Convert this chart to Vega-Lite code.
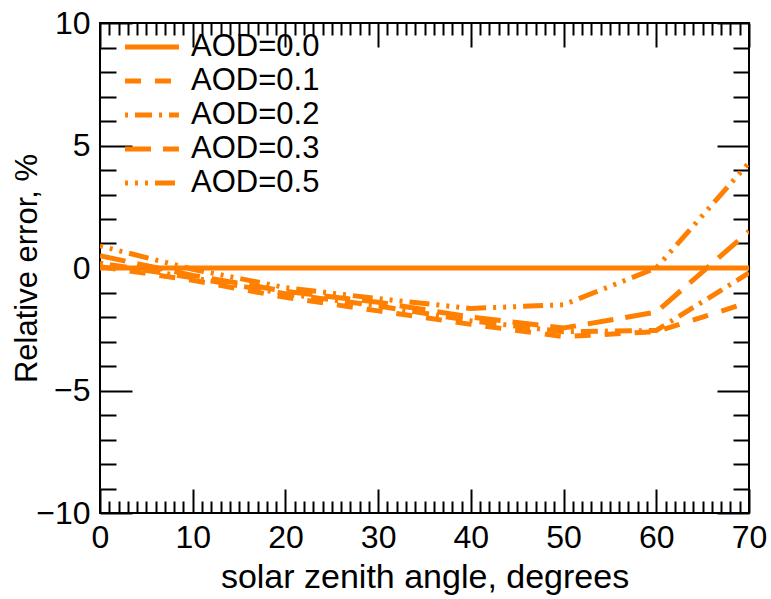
{
  "$schema": "https://vega.github.io/schema/vega-lite/v6.json",
  "autosize": "none",
  "padding": {"left": 100, "top": 23, "right": 22, "bottom": 86},
  "width": 649,
  "height": 490,
  "background": "white",
  "config": {
    "font": "Liberation Sans",
    "view": {"stroke": "black", "strokeWidth": 2},
    "axis": {
      "domain": false,
      "grid": false,
      "tickColor": "black",
      "tickWidth": 2,
      "labelColor": "black",
      "titleColor": "black",
      "labelFont": "Liberation Sans",
      "titleFont": "Liberation Sans",
      "labelFontSize": 32,
      "titleFontSize": 34,
      "titleFontWeight": "normal"
    }
  },
  "data": {
    "values": [
      {"sza": 0, "err": 0, "aod": "AOD=0.0"},
      {"sza": 10, "err": 0, "aod": "AOD=0.0"},
      {"sza": 20, "err": 0, "aod": "AOD=0.0"},
      {"sza": 30, "err": 0, "aod": "AOD=0.0"},
      {"sza": 40, "err": 0, "aod": "AOD=0.0"},
      {"sza": 50, "err": 0, "aod": "AOD=0.0"},
      {"sza": 60, "err": 0, "aod": "AOD=0.0"},
      {"sza": 70, "err": 0, "aod": "AOD=0.0"},
      {"sza": 0, "err": 0.05, "aod": "AOD=0.1"},
      {"sza": 10, "err": -0.5, "aod": "AOD=0.1"},
      {"sza": 20, "err": -1.2, "aod": "AOD=0.1"},
      {"sza": 30, "err": -1.75, "aod": "AOD=0.1"},
      {"sza": 40, "err": -2.3, "aod": "AOD=0.1"},
      {"sza": 50, "err": -2.8, "aod": "AOD=0.1"},
      {"sza": 60, "err": -2.6, "aod": "AOD=0.1"},
      {"sza": 70, "err": -1.4, "aod": "AOD=0.1"},
      {"sza": 0, "err": 0.2, "aod": "AOD=0.2"},
      {"sza": 10, "err": -0.4, "aod": "AOD=0.2"},
      {"sza": 20, "err": -1.05, "aod": "AOD=0.2"},
      {"sza": 30, "err": -1.55, "aod": "AOD=0.2"},
      {"sza": 40, "err": -2.15, "aod": "AOD=0.2"},
      {"sza": 50, "err": -2.6, "aod": "AOD=0.2"},
      {"sza": 60, "err": -2.55, "aod": "AOD=0.2"},
      {"sza": 70, "err": -0.2, "aod": "AOD=0.2"},
      {"sza": 0, "err": 0.5, "aod": "AOD=0.3"},
      {"sza": 10, "err": -0.3, "aod": "AOD=0.3"},
      {"sza": 20, "err": -0.95, "aod": "AOD=0.3"},
      {"sza": 30, "err": -1.4, "aod": "AOD=0.3"},
      {"sza": 40, "err": -2.0, "aod": "AOD=0.3"},
      {"sza": 50, "err": -2.45, "aod": "AOD=0.3"},
      {"sza": 60, "err": -1.8, "aod": "AOD=0.3"},
      {"sza": 70, "err": 1.5, "aod": "AOD=0.3"},
      {"sza": 0, "err": 0.9, "aod": "AOD=0.5"},
      {"sza": 10, "err": -0.05, "aod": "AOD=0.5"},
      {"sza": 20, "err": -0.8, "aod": "AOD=0.5"},
      {"sza": 30, "err": -1.25, "aod": "AOD=0.5"},
      {"sza": 40, "err": -1.65, "aod": "AOD=0.5"},
      {"sza": 50, "err": -1.5, "aod": "AOD=0.5"},
      {"sza": 60, "err": 0.0, "aod": "AOD=0.5"},
      {"sza": 70, "err": 4.3, "aod": "AOD=0.5"}
    ]
  },
  "resolve": {"axis": {"x": "independent", "y": "independent"}},
  "layer": [
    {
      "mark": {"type": "line", "color": "#ff7f00", "strokeWidth": 5, "clip": true},
      "encoding": {
        "x": {
          "field": "sza", "type": "quantitative",
          "scale": {"domain": [0, 70], "nice": false, "zero": false},
          "axis": {"orient": "bottom", "values": [0, 10, 20, 30, 40, 50, 60, 70], "tickSize": -24, "labelPadding": 33, "labelFlush": false, "title": "solar zenith angle, degrees", "titlePadding": 7}
        },
        "y": {
          "field": "err", "type": "quantitative",
          "scale": {"domain": [-10, 10], "nice": false, "zero": false},
          "axis": {"orient": "left", "values": [-10, -5, 0, 5, 10], "tickSize": -32, "labelPadding": 42, "labelFlush": false, "title": "Relative error, %", "titleFontSize": 31, "titlePadding": -8}
        },
        "strokeDash": {
          "field": "aod", "type": "nominal",
          "scale": {
            "domain": ["AOD=0.0", "AOD=0.1", "AOD=0.2", "AOD=0.3", "AOD=0.5"],
            "range": [[1, 0], [16, 14], [3, 7, 17, 7], [26, 12], [3, 7, 3, 7, 3, 7, 20, 7]]
          },
          "legend": {
            "title": null,
            "orient": "none",
            "legendX": 36,
            "legendY": 8,
            "symbolType": "M-2,0H2",
            "symbolSize": 729,
            "symbolStrokeWidth": 5,
            "symbolStrokeColor": "#ff7f00",
            "labelFontSize": 31,
            "labelFont": "Liberation Sans",
            "labelColor": "black",
            "labelOffset": 23,
            "rowPadding": 3
          }
        }
      }
    },
    {
      "mark": {"type": "point", "opacity": 0},
      "encoding": {
        "x": {"field": "sza", "type": "quantitative", "axis": {"orient": "top", "values": [0, 10, 20, 30, 40, 50, 60, 70], "tickSize": -24, "labels": false, "title": null}},
        "y": {"field": "err", "type": "quantitative", "axis": {"orient": "right", "values": [-10, -5, 0, 5, 10], "tickSize": -32, "labels": false, "title": null}}
      }
    },
    {
      "mark": {"type": "point", "opacity": 0},
      "encoding": {
        "x": {"field": "sza", "type": "quantitative", "axis": {"orient": "bottom", "values": [1,2,3,4,5,6,7,8,9,11,12,13,14,15,16,17,18,19,21,22,23,24,25,26,27,28,29,31,32,33,34,35,36,37,38,39,41,42,43,44,45,46,47,48,49,51,52,53,54,55,56,57,58,59,61,62,63,64,65,66,67,68,69], "tickSize": -12, "labels": false, "title": null}},
        "y": {"field": "err", "type": "quantitative", "axis": {"orient": "left", "values": [-9,-8,-7,-6,-4,-3,-2,-1,1,2,3,4,6,7,8,9], "tickSize": -16, "labels": false, "title": null}}
      }
    },
    {
      "mark": {"type": "point", "opacity": 0},
      "encoding": {
        "x": {"field": "sza", "type": "quantitative", "axis": {"orient": "top", "values": [1,2,3,4,5,6,7,8,9,11,12,13,14,15,16,17,18,19,21,22,23,24,25,26,27,28,29,31,32,33,34,35,36,37,38,39,41,42,43,44,45,46,47,48,49,51,52,53,54,55,56,57,58,59,61,62,63,64,65,66,67,68,69], "tickSize": -12, "labels": false, "title": null}},
        "y": {"field": "err", "type": "quantitative", "axis": {"orient": "right", "values": [-9,-8,-7,-6,-4,-3,-2,-1,1,2,3,4,6,7,8,9], "tickSize": -16, "labels": false, "title": null}}
      }
    }
  ]
}
